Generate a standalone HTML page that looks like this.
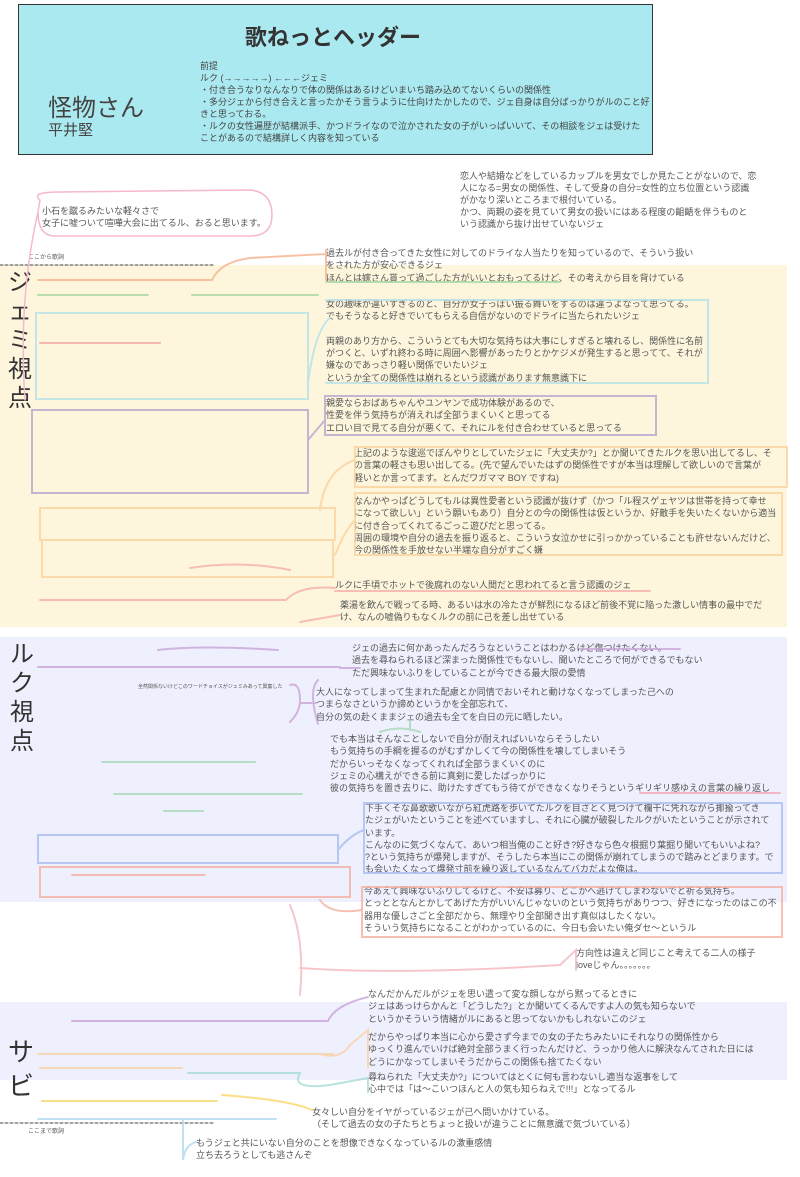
<!DOCTYPE html>
<html><head><meta charset="utf-8"><style>
body{margin:0;width:800px;height:1177px;position:relative;background:#fff;overflow:hidden;font-family:"Liberation Sans","Noto Sans CJK JP",sans-serif;color:#555}
.t{position:absolute;font-size:9px;line-height:12.3px;white-space:nowrap}
svg{position:absolute;left:0;top:0}
</style></head><body>
<div style="position:absolute;left:0;top:265px;width:787px;height:362px;background:#fdf6dd"></div>
<div style="position:absolute;left:0;top:637px;width:787px;height:265px;background:#eef0fd"></div>
<div style="position:absolute;left:0;top:1002px;width:787px;height:78px;background:#eef0fd"></div>
<div style="position:absolute;left:18px;top:4px;width:633px;height:149px;background:#abe9f0;border:1.5px solid #333"></div>
<div class="t" style="left:245px;top:24px;font-size:22px;line-height:28px;color:#333;font-weight:bold">歌ねっとヘッダー</div>
<div class="t" style="left:48px;top:94px;font-size:24px;line-height:30px;color:#444">怪物さん</div>
<div class="t" style="left:48px;top:122px;font-size:15px;line-height:18px;color:#444">平井堅</div>
<div class="t" style="left:200px;top:60px;line-height:12px;color:#444">前提<br>ルク (→→→→→) ←←←ジェミ<br>・付き合うなりなんなりで体の関係はあるけどいまいち踏み込めてないくらいの関係性<br>・多分ジェから付き合えと言ったかそう言うように仕向けたかしたので、ジェ自身は自分ばっかりがルのこと好<br>きと思っておる。<br>・ルクの女性遍歴が結構派手、かつドライなので泣かされた女の子がいっぱいいて、その相談をジェは受けた<br>ことがあるので結構詳しく内容を知っている</div>
<div class="t" style="left:460px;top:170px;line-height:12px">恋人や結婚などをしているカップルを男女でしか見たことがないので、恋<br>人になる=男女の関係性、そして受身の自分=女性的立ち位置という認識<br>がかなり深いところまで根付いている。<br>かつ、両親の姿を見ていて男女の扱いにはある程度の齟齬を伴うものと<br>いう認識から抜け出せていないジェ</div>
<div class="t" style="left:42px;top:205px">小石を蹴るみたいな軽々さで<br>女子に嘘ついて喧嘩大会に出てるル、おると思います。</div>
<div class="t" style="left:28px;top:254px;font-size:6px;line-height:8px">ここから歌詞</div>
<div class="t" style="left:8px;top:268px;font-size:24px;line-height:29px;width:28px;white-space:normal;color:#333">ジェミ視点</div>
<div class="t" style="left:326px;top:247px">過去ルが付き合ってきた女性に対してのドライな人当たりを知っているので、そういう扱い<br>をされた方が安心できるジェ<br>ほんとは嫁さん貰って過ごした方がいいとおもってるけど、その考えから目を背けている</div>
<div class="t" style="left:326px;top:298px">女の趣味が違いすぎるのと、自分が女子っぽい振る舞いをするのは違うよなって思ってる。<br>でもそうなると好きでいてもらえる自信がないのでドライに当たられたいジェ<br><br>両親のあり方から、こういうとても大切な気持ちは大事にしすぎると壊れるし、関係性に名前<br>がつくと、いずれ終わる時に周囲へ影響があったりとかケジメが発生すると思ってて、それが<br>嫌なのであっさり軽い関係でいたいジェ<br>というか全ての関係性は崩れるという認識があります無意識下に</div>
<div class="t" style="left:326px;top:397px">親愛ならおばあちゃんやユンヤンで成功体験があるので、<br>性愛を伴う気持ちが消えれば全部うまくいくと思ってる<br>エロい目で見てる自分が悪くて、それにルを付き合わせていると思ってる</div>
<div class="t" style="left:354px;top:447px">上記のような逡巡でぼんやりとしていたジェに「大丈夫か?」とか聞いてきたルクを思い出してるし、そ<br>の言葉の軽さも思い出してる。(先で望んでいたはずの関係性ですが本当は理解して欲しいので言葉が<br>軽いとか言ってます。とんだワガママ BOY ですね)</div>
<div class="t" style="left:354px;top:495px">なんかやっぱどうしてもルは異性愛者という認識が抜けず（かつ「ル程スゲェヤツは世帯を持って幸せ<br>になって欲しい」という願いもあり）自分との今の関係性は仮というか、好敵手を失いたくないから適当<br>に付き合ってくれてるごっこ遊びだと思ってる。<br>周囲の環境や自分の過去を振り返ると、こういう女泣かせに引っかかっていることも許せないんだけど、<br>今の関係性を手放せない半端な自分がすごく嫌</div>
<div class="t" style="left:335px;top:579px">ルクに手頃でホットで後腐れのない人間だと思われてると言う認識のジェ</div>
<div class="t" style="left:340px;top:599px">薬湯を飲んで戦ってる時、あるいは水の冷たさが鮮烈になるほど前後不覚に陥った激しい情事の最中でだ<br>け、なんの嘘偽りもなくルクの前に己を差し出せている</div>
<div class="t" style="left:10px;top:640px;font-size:24px;line-height:29px;width:28px;white-space:normal;color:#333">ルク視点</div>
<div class="t" style="left:352px;top:642px">ジェの過去に何かあったんだろうなということはわかるけど傷つけたくない。<br>過去を尋ねられるほど深まった関係性でもないし、聞いたところで何ができるでもない<br>ただ興味ないふりをしていることが今できる最大限の愛情</div>
<div class="t" style="left:138px;top:684px;font-size:5px;line-height:7px">全然関係ないけどこのワードチョイスがジェミみあって興奮した</div>
<div class="t" style="left:316px;top:686px">大人になってしまって生まれた配慮とか同情でおいそれと動けなくなってしまった己への<br>つまらなさというか諦めというかを全部忘れて、<br>自分の気の赴くままジェの過去も全てを白日の元に晒したい。</div>
<div class="t" style="left:330px;top:733px">でも本当はそんなことしないで自分が耐えればいいならそうしたい<br>もう気持ちの手綱を握るのがむずかしくて今の関係性を壊してしまいそう<br>だからいっそなくなってくれれば全部うまくいくのに<br>ジェミの心構えができる前に真剣に愛したばっかりに<br>彼の気持ちを置き去りに、助けたすぎてもう待てができなくなりそうというギリギリ感ゆえの言葉の繰り返し</div>
<div class="t" style="left:365px;top:802px">下手くそな鼻歌歌いながら紅虎路を歩いてたルクを目ざとく見つけて欄干に凭れながら揶揄ってき<br>たジェがいたということを述べていますし、それに心臓が破裂したルクがいたということが示されて<br>います。<br>こんなのに気づくなんて、あいつ相当俺のこと好き?好きなら色々根掘り葉掘り聞いてもいいよね?<br>?という気持ちが爆発しますが、そうしたら本当にこの関係が崩れてしまうので踏みとどまります。で<br>も会いたくなって爆発寸前を繰り返しているなんてバカだよな俺は。</div>
<div class="t" style="left:364px;top:885px">今あえて興味ないふりしてるけど、不安は募り、どこかへ逃げてしまわないでと祈る気持ち。<br>とっととなんとかしてあげた方がいいんじゃないのという気持ちがありつつ、好きになったのはこの不<br>器用な優しさごと全部だから、無理やり全部聞き出す真似はしたくない。<br>そういう気持ちになることがわかっているのに、今日も会いたい俺ダセ〜というル</div>
<div class="t" style="left:576px;top:947px">方向性は違えど同じこと考えてる二人の様子<br>loveじゃん。。。。。。。</div>
<div class="t" style="left:368px;top:988px">なんだかんだルがジェを思い遣って変な顔しながら黙ってるときに<br>ジェはあっけらかんと「どうした?」とか聞いてくるんですよ人の気も知らないで<br>というかそういう情緒がルにあると思ってないかもしれないこのジェ</div>
<div class="t" style="left:8px;top:1035px;font-size:26px;line-height:34px;width:28px;white-space:normal;color:#333">サビ</div>
<div class="t" style="left:368px;top:1031px">だからやっぱり本当に心から愛さず今までの女の子たちみたいにそれなりの関係性から<br>ゆっくり進んでいけば絶対全部うまく行ったんだけど、うっかり他人に解決なんてされた日には<br>どうにかなってしまいそうだからこの関係も捨てたくない</div>
<div class="t" style="left:368px;top:1071px">尋ねられた「大丈夫か?」についてはとくに何も言わないし適当な返事をして<br>心中では「は〜こいつほんと人の気も知らねえで!!!」となってるル</div>
<div class="t" style="left:312px;top:1106px">女々しい自分をイヤがっているジェが己へ問いかけている。<br>（そして過去の女の子たちとちょっと扱いが違うことに無意識で気づいている）</div>
<div class="t" style="left:28px;top:1128px;font-size:6px;line-height:8px">ここまで歌詞</div>
<div class="t" style="left:196px;top:1137px">もうジェと共にいない自分のことを想像できなくなっているルの激重感情<br>立ち去ろうとしても逃さんぞ</div>
<svg width="800" height="1177" fill="none" stroke-linecap="round">
<path d="M0 265H215M0 1123H215" stroke="#444" stroke-dasharray="3 2"/>
<path d="M40 200Q30 192 60 192L250 190Q272 192 272 215Q272 236 250 236L55 236Q38 236 38 212Z M38 212Q18 300 25 400" stroke="#f5b8d0" stroke-width="1.5"/>
<g stroke-width="2" opacity=".8">
<path d="M38 280H212Q220 262 250 258L326 254M326 250V280" stroke="#f6b48e"/>
<path d="M38 295H148M192 295H318M326 282H560" stroke="#a8d8a0"/>
<path d="M36 313H308V399H36Z M308 383Q315 330 330 318 M326 300H708V383H326" stroke="#b6e0e8"/>
<path d="M40 343H160" stroke="#f4a8a8"/>
<path d="M32 410H308V493H32Z M308 440L325 420 M325 396H656V435H325Z" stroke="#b9a6cf"/>
<path d="M40 508H335V540H40Z M42 540H333V577H42Z M320 510Q325 470 355 460 M355 447H787V487H355Z M355 493H782V555H355Z M335 555Q345 530 355 520" stroke="#fbd29c"/>
<path d="M190 568Q240 560 290 570" stroke="#f6b0a8"/>
<path d="M40 600H286Q300 585 335 588 M335 591H650 M300 622L340 615" stroke="#f6b0a8"/>
<path d="M158 650Q200 645 278 650M38 667H340M340 668H360M580 649H680" stroke="#c9a6d8"/>
<path d="M290 685Q300 682 300 700Q300 712 290 722M300 703H316M318 680Q308 690 318 724" stroke="#c9a6d8"/>
<path d="M102 762H255M114 794H302M164 811H203M380 732Q400 725 420 732M410 720V730" stroke="#a8d8b8"/>
<path d="M640 793H780" stroke="#f4a8b8"/>
<path d="M38 835H338V863H38Z M338 850Q350 835 364 830 M364 803H782V873H364Z" stroke="#a8bdf0"/>
<path d="M40 867H350V897H40Z M72 875H205 M362 887H782V937H362Z M320 900Q330 915 362 910" stroke="#f6b0a0"/>
<path d="M290 905Q305 940 300 995M300 968Q400 975 560 965L576 950V970" stroke="#f6b8c0"/>
<path d="M72 1021H328Q335 1005 368 997" stroke="#c9a6d8"/>
<path d="M38 1054H333M40 1068H182M320 1054Q340 1060 350 1045L368 1030V1068" stroke="#fbd2a8"/>
<path d="M188 1073H300Q290 1090 330 1085L368 1078V1092" stroke="#a8dcd8"/>
<path d="M42 1101H217M222 1095Q290 1100 312 1110" stroke="#f8d86a"/>
<path d="M38 1119H276M183 1119V1160Q185 1145 196 1142" stroke="#b0daf0"/>
</g>
</svg>
</body></html>
